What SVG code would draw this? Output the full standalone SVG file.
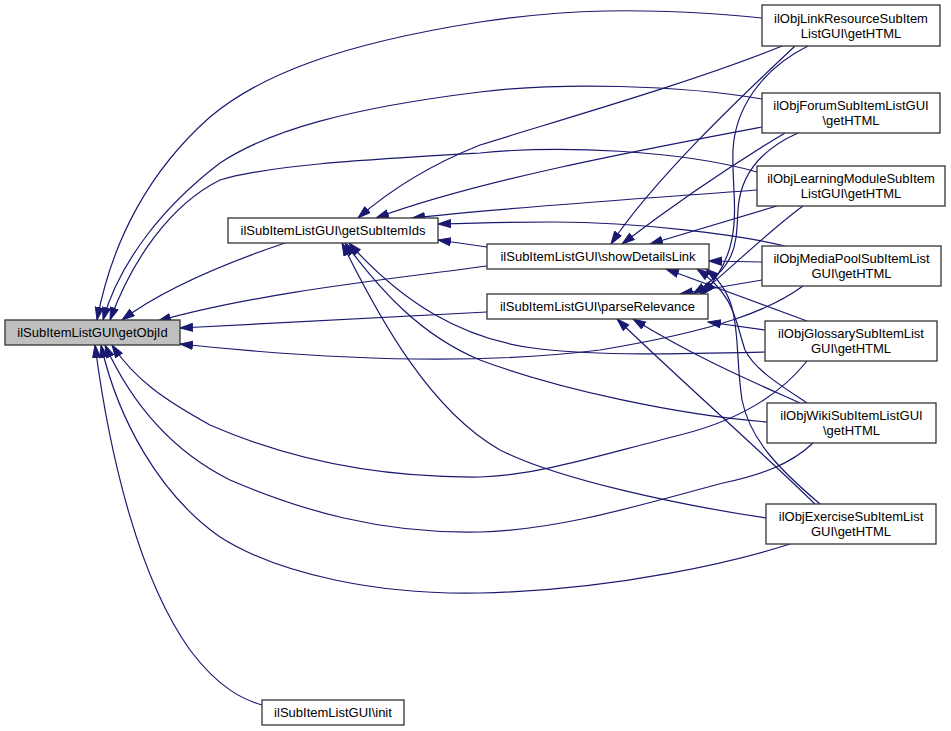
<svg xmlns="http://www.w3.org/2000/svg" width="951" height="731" viewBox="0 0 951 731">
<style>
.n rect{fill:#fff;stroke:#333;stroke-width:1.3}
.n.hl rect{fill:#bfbfbf}
.n text{font-family:"Liberation Sans",Arial,sans-serif;font-size:13px;fill:#000;text-anchor:middle}
.e path{fill:none;stroke:#191970;stroke-width:1.2;marker-end:url(#ah)}
</style>
<defs>
<marker id="ah" markerUnits="userSpaceOnUse" markerWidth="14" markerHeight="10" refX="13" refY="4.5" orient="auto">
<path d="M0.5,0.5 L13,4.5 L0.5,8.5 z" fill="#191970" stroke="#191970" stroke-width="1"/>
</marker>
</defs>
<rect width="951" height="731" fill="#fff"/>
<g id="edges" class="e">
<!-- into getObjId -->
<path d="M762,18 C640,6 560,10 480,22 C340,44 260,75 210,117 C150,170 112,240 97,320"/>
<path d="M762,99 C680,85 560,82 480,92 C350,108 270,130 220,163 C165,205 120,260 103,320"/>
<path d="M757,172 C680,150 560,145 480,153 C360,160 270,165 220,180 C170,205 132,260 110,320"/>
<path d="M285,243 C220,265 162,290 122,320"/>
<path d="M487,266 C400,278 260,292 158,321"/>
<path d="M487,312 L180,328"/>
<path d="M803,286 C770,310 720,330 600,350 C480,365 330,360 180,344"/>
<path d="M807,361 C780,395 740,420 680,435 C600,455 540,475 480,477 C380,478 290,460 210,425 C165,400 135,380 112,345"/>
<path d="M813,443 C790,465 760,475 723,483 C640,505 560,530 480,532 C380,534 300,510 230,480 C170,450 130,400 105,345"/>
<path d="M790,544 C740,560 620,590 480,593 C380,595 280,575 220,537 C160,495 118,420 101,345"/>
<path d="M262,705 C245,700 220,690 190,650 C140,580 110,460 95,345"/>
<!-- into getSubItemIds -->
<path d="M782,46 C700,80 560,120 480,145 C430,165 390,190 358,218"/>
<path d="M762,127 C640,150 480,180 376,218"/>
<path d="M757,190 C650,198 500,208 412,218"/>
<path d="M785,246 C740,235 640,222 553,222 C510,222 470,223 438,224"/>
<path d="M487,247 L438,240"/>
<path d="M765,352 C680,354 600,356 540,349 C460,340 400,300 349,243"/>
<path d="M767,422 C680,415 560,390 480,360 C420,335 380,290 345,243"/>
<path d="M766,518 C680,505 560,480 500,450 C430,410 380,320 342,243"/>
<!-- into showDetailsLink -->
<path d="M795,46 C770,70 660,170 611,244"/>
<path d="M785,133 C740,160 680,200 622,244"/>
<path d="M777,206 C730,220 690,232 650,244"/>
<path d="M762,262 L709,261"/>
<path d="M807,321 L666,269"/>
<path d="M807,403 C780,385 755,370 745,350 C735,320 735,295 697,269"/>
<path d="M820,504 C780,470 750,440 742,400 C733,340 745,300 706,269"/>
<!-- into parseRelevance -->
<path d="M808,46 C760,70 735,110 733,150 C731,200 748,245 703,294"/>
<path d="M798,133 C760,150 740,175 738,210 C736,245 738,265 693,294"/>
<path d="M803,206 C770,230 740,260 700,294"/>
<path d="M762,280 L680,294"/>
<path d="M765,330 L708,322"/>
<path d="M800,403 C760,385 700,360 633,319"/>
<path d="M815,504 C760,450 680,380 617,319"/>
</g>
<g id="getObjId" class="n hl"><rect x="5" y="320" width="175" height="25"/><text x="92.5" y="337">ilSubItemListGUI\getObjId</text></g>
<g id="getSubItemIds" class="n"><rect x="228" y="218" width="210" height="25"/><text x="333" y="235">ilSubItemListGUI\getSubItemIds</text></g>
<g id="showDetailsLink" class="n"><rect x="487" y="244" width="222" height="25"/><text x="598" y="261">ilSubItemListGUI\showDetailsLink</text></g>
<g id="parseRelevance" class="n"><rect x="487" y="294" width="221" height="25"/><text x="597.5" y="311">ilSubItemListGUI\parseRelevance</text></g>
<g id="init" class="n"><rect x="262" y="700" width="142" height="25"/><text x="333" y="717">ilSubItemListGUI\init</text></g>
<g id="linkResource" class="n"><rect x="762" y="5" width="178" height="41"/><text x="851" y="23">ilObjLinkResourceSubItem</text><text x="851" y="38">ListGUI\getHTML</text></g>
<g id="forum" class="n"><rect x="762" y="93" width="178" height="40"/><text x="851" y="110">ilObjForumSubItemListGUI</text><text x="851" y="125">\getHTML</text></g>
<g id="learningModule" class="n"><rect x="757" y="166" width="188" height="40"/><text x="851" y="183">ilObjLearningModuleSubItem</text><text x="851" y="198">ListGUI\getHTML</text></g>
<g id="mediaPool" class="n"><rect x="762" y="246" width="179" height="40"/><text x="851.5" y="263">ilObjMediaPoolSubItemList</text><text x="851.5" y="278">GUI\getHTML</text></g>
<g id="glossary" class="n"><rect x="765" y="321" width="172" height="40"/><text x="851" y="338">ilObjGlossarySubItemList</text><text x="851" y="353">GUI\getHTML</text></g>
<g id="wiki" class="n"><rect x="767" y="403" width="169" height="40"/><text x="851.5" y="420">ilObjWikiSubItemListGUI</text><text x="851.5" y="435">\getHTML</text></g>
<g id="exercise" class="n"><rect x="766" y="504" width="170" height="40"/><text x="851" y="521">ilObjExerciseSubItemList</text><text x="851" y="536">GUI\getHTML</text></g>
</svg>
